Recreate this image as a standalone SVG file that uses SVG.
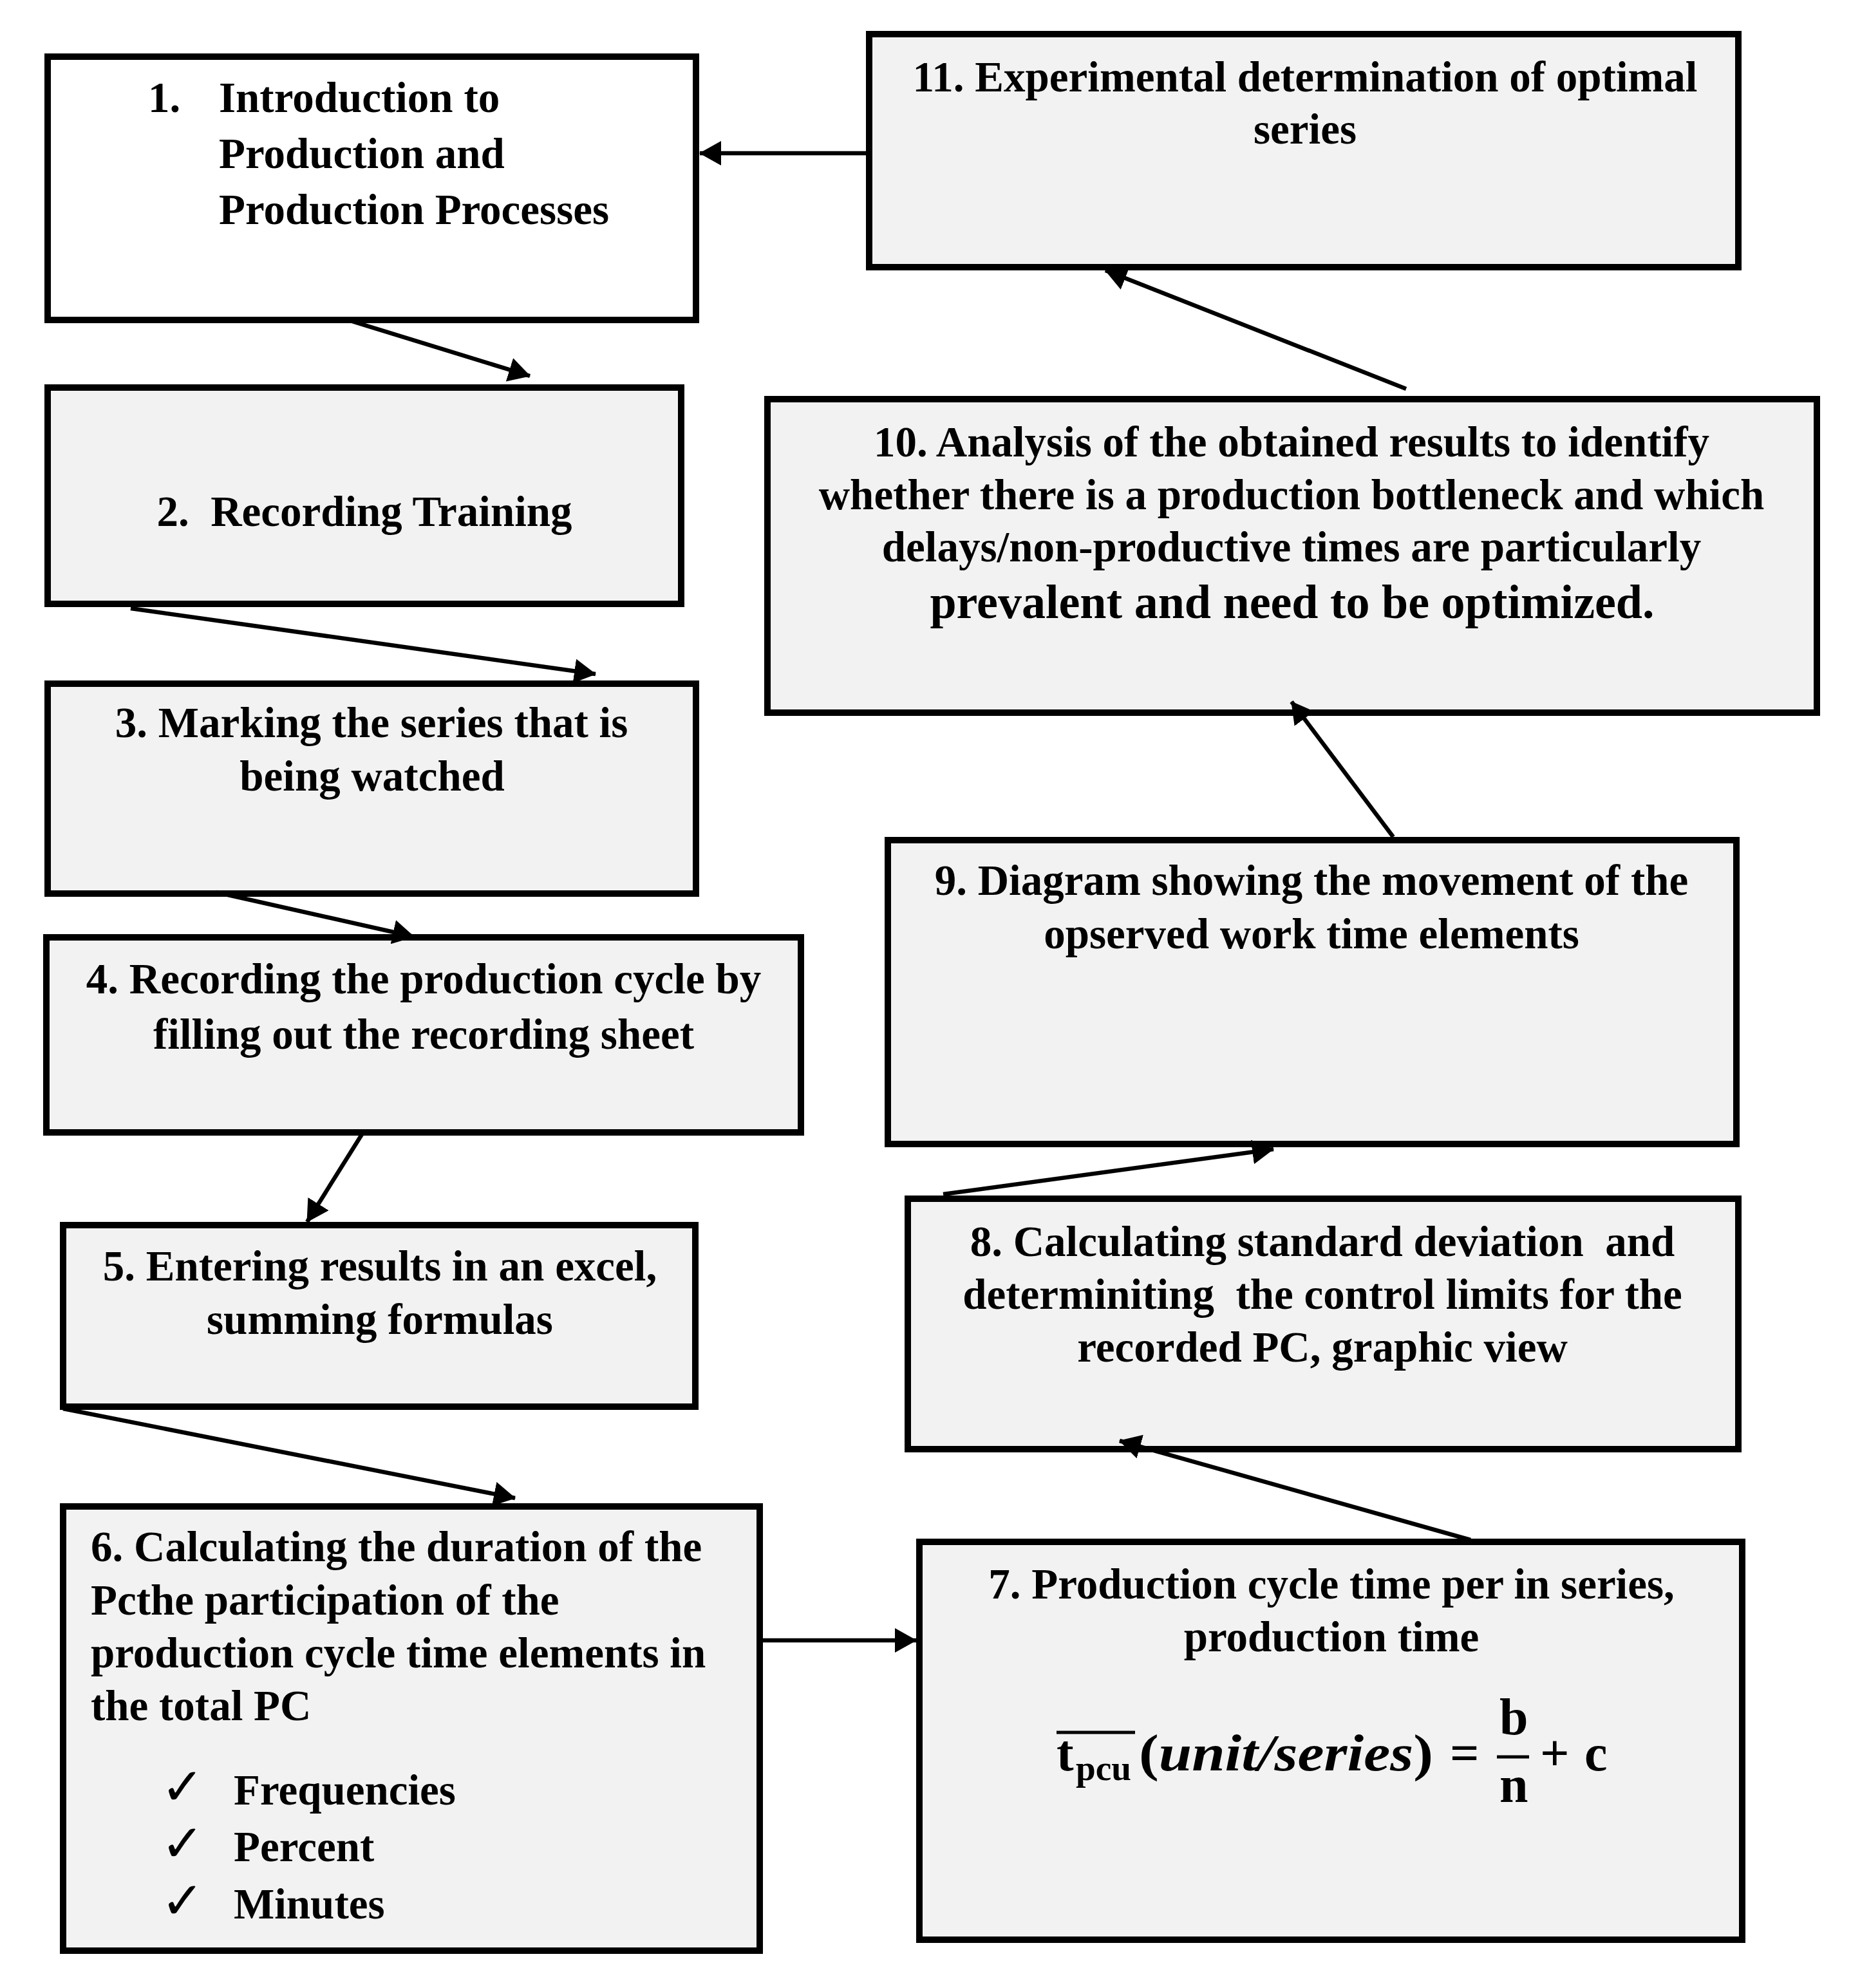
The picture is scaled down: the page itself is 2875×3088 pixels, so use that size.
<svg xmlns="http://www.w3.org/2000/svg" width="2875" height="3088" viewBox="0 0 2875 3088">
<style>
.box{fill:#f2f2f2;stroke:#000;stroke-width:10}
.white{fill:#ffffff}
.t{font-family:"Liberation Serif","Times New Roman",serif;font-weight:bold;font-size:67px;fill:#000;white-space:pre}
.c{text-anchor:middle}
.conn{stroke:#000;stroke-width:6.5;fill:none}
.chk{font-family:"DejaVu Sans",sans-serif;font-size:80px;fill:#000}
</style>
<defs>
<marker id="ah" markerUnits="userSpaceOnUse" markerWidth="34" markerHeight="38" viewBox="0 0 34 38" refX="33" refY="19" orient="auto">
<path d="M0,0 L34,19 L0,38 z" fill="#000"/>
</marker>
</defs>
<rect width="2875" height="3088" fill="#fff"/>

<g id="node1">
<rect class="box white" x="74" y="88" width="1007" height="409"/>
<text class="t" x="230" y="174">1.</text>
<text class="t" x="340" y="174">Introduction to</text>
<text class="t" x="340" y="261">Production and</text>
<text class="t" x="340" y="348">Production Processes</text>
</g>

<g id="node2">
<rect class="box" x="74" y="602" width="984" height="336"/>
<text class="t c" x="566" y="817">2.  Recording Training</text>
</g>

<g id="node3">
<rect class="box" x="74" y="1062" width="1007" height="326"/>
<text class="t c" x="577" y="1145">3. Marking the series that is</text>
<text class="t c" x="578" y="1228">being watched</text>
</g>

<g id="node4">
<rect class="box" x="72" y="1456" width="1172" height="303"/>
<text class="t c" x="658" y="1543">4. Recording the production cycle by</text>
<text class="t c" x="658" y="1629">filling out the recording sheet</text>
</g>

<g id="node5">
<rect class="box" x="98" y="1903" width="982" height="282"/>
<text class="t c" x="590" y="1989">5. Entering results in an excel,</text>
<text class="t c" x="590" y="2072">summing formulas</text>
</g>

<g id="node6">
<rect class="box" x="98" y="2340" width="1082" height="690"/>
<text class="t" x="141" y="2425">6. Calculating the duration of the</text>
<text class="t" x="141" y="2508">Pcthe participation of the</text>
<text class="t" x="141" y="2590">production cycle time elements in</text>
<text class="t" x="141" y="2672">the total PC</text>
<text class="chk" x="250" y="2803">✓</text>
<text class="t" x="363" y="2803">Frequencies</text>
<text class="chk" x="250" y="2891">✓</text>
<text class="t" x="363" y="2891">Percent</text>
<text class="chk" x="250" y="2980">✓</text>
<text class="t" x="363" y="2980">Minutes</text>
</g>

<g id="node7">
<rect class="box" x="1428" y="2395" width="1278" height="618"/>
<text class="t c" x="2068" y="2483">7. Production cycle time per in series,</text>
<text class="t c" x="2068" y="2565">production time</text>
<line x1="1641" y1="2691" x2="1763" y2="2691" stroke="#000" stroke-width="5"/>
<text class="t" x="1641" y="2750" style="font-size:80px">t</text>
<text class="t" x="1671" y="2765" style="font-size:54px" textLength="86" lengthAdjust="spacingAndGlyphs">pcu</text>
<text class="t" x="1769" y="2750" style="font-size:80px" textLength="457" lengthAdjust="spacingAndGlyphs">(<tspan font-style="italic">unit/series</tspan>)</text>
<text class="t" x="2252" y="2750" style="font-size:80px">=</text>
<text class="t" x="2329" y="2694" style="font-size:80px">b</text>
<line x1="2325" y1="2729" x2="2375" y2="2729" stroke="#000" stroke-width="5"/>
<text class="t" x="2329" y="2799" style="font-size:80px">n</text>
<text class="t" x="2392" y="2750" style="font-size:80px">+</text>
<text class="t" x="2461" y="2750" style="font-size:80px">c</text>
</g>

<g id="node8">
<rect class="box" x="1410" y="1862" width="1290" height="389"/>
<text class="t c" x="2054" y="1951">8. Calculating standard deviation  and</text>
<text class="t c" x="2054" y="2033">determiniting  the control limits for the</text>
<text class="t c" x="2054" y="2115">recorded PC, graphic view</text>
</g>

<g id="node9">
<rect class="box" x="1379" y="1305" width="1318" height="472"/>
<text class="t c" x="2037" y="1390">9. Diagram showing the movement of the</text>
<text class="t c" x="2037" y="1473">opserved work time elements</text>
</g>

<g id="node10">
<rect class="box" x="1192" y="620" width="1630" height="487"/>
<text class="t c" x="2006" y="709">10. Analysis of the obtained results to identify</text>
<text class="t c" x="2006" y="791">whether there is a production bottleneck and which</text>
<text class="t c" x="2006" y="872">delays/non-productive times are particularly</text>
<text class="t c" x="2007" y="960" style="font-size:74px">prevalent and need to be optimized.</text>
</g>

<g id="node11">
<rect class="box" x="1350" y="53" width="1350" height="362"/>
<text class="t c" x="2027" y="142">11. Experimental determination of optimal</text>
<text class="t c" x="2027" y="223">series</text>
</g>

<g id="connectors">
<line class="conn" x1="1345" y1="238" x2="1087" y2="238" marker-end="url(#ah)"/>
<line class="conn" x1="537" y1="496" x2="823" y2="584" marker-end="url(#ah)"/>
<line class="conn" x1="203" y1="945" x2="925" y2="1047" marker-end="url(#ah)"/>
<line class="conn" x1="336" y1="1386" x2="643" y2="1455" marker-end="url(#ah)"/>
<line class="conn" x1="564" y1="1759" x2="477" y2="1898" marker-end="url(#ah)"/>
<line class="conn" x1="98" y1="2188" x2="800" y2="2327" marker-end="url(#ah)"/>
<line class="conn" x1="1185" y1="2548" x2="1423" y2="2548" marker-end="url(#ah)"/>
<line class="conn" x1="2284" y1="2392" x2="1739" y2="2238" marker-end="url(#ah)"/>
<line class="conn" x1="1465" y1="1855" x2="1978" y2="1785" marker-end="url(#ah)"/>
<line class="conn" x1="2164" y1="1300" x2="2006" y2="1090" marker-end="url(#ah)"/>
<line class="conn" x1="2184" y1="604" x2="1717" y2="420" marker-end="url(#ah)"/>
</g>
</svg>
